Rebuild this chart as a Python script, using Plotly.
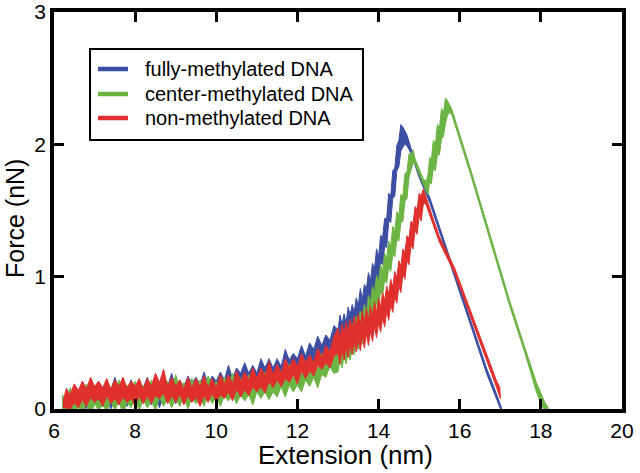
import plotly.graph_objects as go

# ---- data ----
series_names = ["fully-methylated DNA", "center-methylated DNA", "non-methylated DNA"]
series_colors = ["#3b4ea2", "#6cb443", "#e0302d"]

# each series: extension (nm), upper and lower edge of the noisy force band (nN)
blue_x = [6.3, 6.4, 6.5, 6.6, 6.7, 6.8, 6.9, 7.0, 7.1, 7.2, 7.3, 7.4, 7.5, 7.6, 7.7, 7.8, 7.9, 8.0, 8.1, 8.2,
          8.3, 8.4, 8.5, 8.6, 8.7, 8.8, 8.9, 9.0, 9.1, 9.2, 9.3, 9.4, 9.5, 9.6, 9.7, 9.8, 9.9, 10.0, 10.1, 10.2,
          10.3, 10.4, 10.5, 10.6, 10.7, 10.8, 10.9, 11.0, 11.1, 11.2, 11.3, 11.4, 11.5, 11.6, 11.7, 11.8, 11.9,
          12.0, 12.1, 12.2, 12.3, 12.4, 12.5, 12.6, 12.7, 12.8, 12.9,
          13.00, 13.05, 13.10, 13.15, 13.20, 13.25, 13.30, 13.35, 13.40, 13.45, 13.50, 13.55, 13.60, 13.65,
          13.70, 13.75, 13.80, 13.85, 13.90, 13.95, 14.00, 14.05, 14.10, 14.15, 14.20, 14.25, 14.30, 14.35,
          14.40, 14.45, 14.50, 14.55, 14.60, 14.65, 14.70, 14.80, 15.00, 15.26, 15.55, 15.83, 16.25, 16.66,
          16.85, 17.03]
blue_hi = [.16, .10, .16, .11, .21, .14, .19, .13, .21, .13, .18, .14, .24, .15, .19, .14, .22, .15, .21, .16,
           .24, .15, .21, .16, .23, .17, .27, .16, .22, .16, .25, .19, .24, .18, .28, .18, .25, .21, .28, .22,
           .33, .23, .31, .27, .35, .27, .33, .27, .38, .31, .38, .31, .38, .32, .45, .37, .42,
           .38, .48, .40, .50, .45, .55, .48, .56, .52, .63,
           .60, .71, .64, .72, .65, .77, .71, .79, .73, .84, .78, .91, .83, .94,
           .91, 1.03, .97, 1.10, 1.06, 1.21, 1.15, 1.31, 1.30, 1.44, 1.44, 1.63, 1.61, 1.80,
           1.82, 1.99, 2.03, 2.15, 2.13, 2.10, 2.07, 1.97, 1.79, 1.60, 1.33, 1.07, 0.69, 0.31,
           0.16, 0.01]
blue_lo = [.03, -.02, .06, .01, .05, .00, .08, .03, .07, .02, .09, .00, .07, .03, .08, .02, .10, .03, .08, .05,
           .09, .03, .11, .01, .10, .05, .09, .04, .12, .04, .11, .07, .11, .04, .14, .07, .14, .09, .14, .09,
           .18, .12, .19, .11, .22, .16, .21, .15, .23, .18, .26, .20, .25, .19, .29, .24, .32,
           .25, .33, .30, .37, .32, .41, .34, .44, .42, .48,
           .41, .52, .46, .54, .46, .57, .51, .59, .54, .65, .56, .69, .65, .76,
           .69, .81, .78, .91, .84, .99, .95, 1.11, 1.09, 1.23, 1.22, 1.42, 1.41, 1.59,
           1.61, 1.80, 1.83, 1.95, 1.98, 2.00, 1.99, 1.93, 1.75, 1.56, 1.29, 1.03, 0.65, 0.27,
           0.12, -0.02]

green_x = [6.2, 6.3, 6.4, 6.5, 6.6, 6.7, 6.8, 6.9, 7.0, 7.1, 7.2, 7.3, 7.4, 7.5, 7.6, 7.7, 7.8, 7.9, 8.0, 8.1,
           8.2, 8.3, 8.4, 8.5, 8.6, 8.7, 8.8, 8.9, 9.0, 9.1, 9.2, 9.3, 9.4, 9.5, 9.6, 9.7, 9.8, 9.9, 10.0, 10.1,
           10.2, 10.3, 10.4, 10.5, 10.6, 10.7, 10.8, 10.9, 11.0, 11.1, 11.2, 11.3, 11.4, 11.5, 11.6, 11.7, 11.8,
           11.9, 12.0, 12.1, 12.2, 12.3, 12.4, 12.5, 12.6, 12.7, 12.8, 12.9,
           13.00, 13.05, 13.10, 13.15, 13.20, 13.25, 13.30, 13.35, 13.40, 13.45, 13.50, 13.55, 13.60, 13.65,
           13.70, 13.75, 13.80, 13.85, 13.90, 13.95, 14.00, 14.05, 14.10, 14.15, 14.20, 14.25, 14.30, 14.35,
           14.40, 14.45, 14.50, 14.55, 14.60, 14.65, 14.70, 14.75, 14.80, 14.85, 14.90, 15.00, 15.10, 15.18,
           15.22, 15.26, 15.30, 15.35, 15.40, 15.45, 15.50, 15.55, 15.60, 15.65, 15.70, 15.75, 15.80, 16.25,
           16.75, 17.23, 17.60, 17.89, 18.00, 18.10, 18.18]
green_hi = [.11, .07, .16, .06, .14, .09, .19, .09, .16, .09, .17, .12, .16, .11, .22, .10, .18, .13, .21, .12,
            .18, .12, .22, .14, .20, .13, .21, .13, .26, .15, .20, .15, .23, .14, .22, .16, .25, .16, .21, .15,
            .24, .18, .27, .17, .23, .17, .26, .19, .23, .19, .28, .19, .26, .22, .29, .23, .34,
            .23, .30, .27, .35, .29, .36, .30, .42, .36, .44, .40,
            .46, .55, .49, .58, .52, .62, .55, .65, .59, .70, .63, .74, .68, .79,
            .73, .86, .80, .93, .88, 1.01, .96, 1.09, 1.04, 1.18, 1.13, 1.27, 1.23, 1.38,
            1.34, 1.49, 1.46, 1.62, 1.61, 1.78, 1.79, 1.93, 1.92, 1.96, 1.89, 1.82, 1.74, 1.72,
            1.78, 1.90, 1.88, 2.03, 2.00, 2.15, 2.12, 2.27, 2.24, 2.35, 2.33, 2.30, 2.27, 1.83,
            1.32, 0.82, 0.47, 0.20, 0.12, 0.05, 0.01]
green_lo = [-.01, -.04, .03, -.06, .02, -.04, .05, -.05, .04, -.01, .03, -.02, .06, -.01, .06, -.04, .05, .01,
            .08, -.01, .07, .01, .06, -.01, .09, .02, .08, .01, .08, .02, .10, .00, .09, .04, .09, .02, .11, .04,
            .10, .02, .10, .06, .12, .04, .11, .06, .11, .03, .13, .08, .13, .07, .13, .09, .17, .09, .18,
            .13, .18, .13, .22, .17, .24, .16, .26, .24, .32, .27,
            .28, .37, .31, .40, .34, .43, .37, .46, .41, .50, .45, .55, .49, .60,
            .55, .66, .61, .73, .69, .81, .77, .89, .86, .98, .95, 1.07, 1.04, 1.17,
            1.15, 1.28, 1.27, 1.41, 1.42, 1.57, 1.59, 1.75, 1.80, 1.86, 1.85, 1.78, 1.70, 1.64,
            1.62, 1.72, 1.70, 1.82, 1.80, 1.92, 1.92, 2.04, 2.06, 2.16, 2.22, 2.24, 2.23, 1.79,
            1.28, 0.78, 0.43, 0.13, 0.04, -0.01, -0.02]

red_x = [6.22, 6.3, 6.4, 6.5, 6.6, 6.7, 6.8, 6.9, 7.0, 7.1, 7.2, 7.3, 7.4, 7.5, 7.6, 7.7, 7.8, 7.9, 8.0, 8.1,
         8.2, 8.3, 8.4, 8.5, 8.6, 8.7, 8.8, 8.9, 9.0, 9.1, 9.2, 9.3, 9.4, 9.5, 9.6, 9.7, 9.8, 9.9, 10.0, 10.1,
         10.2, 10.3, 10.4, 10.5, 10.6, 10.7, 10.8, 10.9, 11.0, 11.1, 11.2, 11.3, 11.4, 11.5, 11.6, 11.7, 11.8,
         11.9, 12.0, 12.1, 12.2, 12.3, 12.4, 12.5, 12.6, 12.7, 12.8, 12.9,
         13.00, 13.05, 13.10, 13.15, 13.20, 13.25, 13.30, 13.35, 13.40, 13.45, 13.50, 13.55, 13.60, 13.65,
         13.70, 13.75, 13.80, 13.85, 13.90, 13.95, 14.00, 14.05, 14.10, 14.15, 14.20, 14.25, 14.30, 14.35,
         14.40, 14.45, 14.50, 14.55, 14.60, 14.65, 14.70, 14.75, 14.80, 14.85, 14.90, 14.95, 15.00, 15.05,
         15.10, 15.15, 15.30, 15.50, 15.87, 16.33, 16.78, 16.90, 16.99, 17.00]
red_hi = [.05, .15, .11, .19, .14, .21, .15, .24, .17, .21, .16, .23, .15, .22, .17, .24, .16, .21, .17, .23,
          .15, .23, .17, .27, .20, .30, .17, .24, .17, .22, .15, .24, .16, .23, .17, .25, .16, .23, .16, .26,
          .19, .26, .19, .29, .21, .28, .22, .31, .23, .31, .25, .36, .26, .34, .27, .38, .31,
          .38, .32, .42, .35, .41, .35, .46, .39, .48, .43, .55,
          .61, .53, .64, .56, .66, .58, .68, .60, .70, .62, .72, .63, .74, .65,
          .76, .67, .78, .70, .81, .73, .84, .77, .88, .82, .93, .87, .98, .92,
          1.04, .99, 1.12, 1.08, 1.21, 1.18, 1.31, 1.29, 1.42, 1.40, 1.53, 1.51, 1.63, 1.61,
          1.66, 1.62, 1.48, 1.30, 1.07, 0.69, 0.31, 0.22, 0.16, 0.12]
red_lo = [.01, .01, .00, .05, .01, .07, .02, .09, .05, .08, .02, .10, .04, .08, .03, .09, .05, .08, .02, .10,
          .04, .10, .04, .10, .08, .12, .04, .10, .05, .11, .03, .10, .05, .09, .02, .10, .05, .12, .05, .11,
          .08, .13, .06, .15, .09, .15, .10, .17, .13, .17, .12, .21, .16, .22, .17, .23, .20,
          .26, .19, .29, .23, .29, .25, .33, .30, .35, .31, .40,
          .42, .34, .45, .37, .47, .39, .49, .41, .51, .43, .53, .44, .55, .46,
          .57, .48, .59, .51, .62, .54, .65, .58, .69, .62, .74, .67, .79, .73,
          .85, .80, .93, .88, 1.02, .98, 1.12, 1.09, 1.24, 1.21, 1.35, 1.32, 1.46, 1.42,
          1.54, 1.56, 1.44, 1.26, 1.03, 0.65, 0.27, 0.17, 0.09, 0.08]

x_ticks = [6, 8, 10, 12, 14, 16, 18, 20]
y_ticks = [0, 1, 2, 3]
x_title = "Extension (nm)"
y_title = "Force (nN)"

series = [(blue_x, blue_hi, blue_lo), (green_x, green_hi, green_lo), (red_x, red_hi, red_lo)]

FONT = "Arial, Liberation Sans, Helvetica, sans-serif"

fig = go.Figure()
for (xs, hi, lo), col, name in zip(series, series_colors, series_names):
    fig.add_trace(go.Scatter(x=list(xs) + list(xs)[::-1], y=list(hi) + list(lo)[::-1],
                             mode="lines", fill="toself", fillcolor=col,
                             line=dict(color=col, width=1.0), name=name,
                             showlegend=False, hoverinfo="skip"))

axis_common = dict(showgrid=False, zeroline=False, showline=True, linecolor="black", linewidth=3.5,
                   mirror="ticks", ticks="inside", ticklen=10, tickwidth=2.5, tickcolor="black",
                   tickfont=dict(family=FONT, size=21, color="black"), automargin=False,
                   ticklabelstandoff=0)

fig.update_xaxes(range=[6, 20], tickvals=x_ticks, ticktext=[str(v) for v in x_ticks], **axis_common)
fig.update_yaxes(range=[0, 3], tickvals=y_ticks, ticktext=[str(v) for v in y_ticks], **axis_common)

# axis titles and legend box (positions in paper coordinates)
annotations = [
    dict(text=x_title, xref="paper", yref="paper", x=0.514, y=-0.116, xanchor="center", yanchor="middle",
         showarrow=False, font=dict(family=FONT, size=26, color="black")),
    dict(text=y_title, xref="paper", yref="paper", x=-0.0687, y=0.481, xanchor="center", yanchor="middle",
         textangle=-90, showarrow=False, font=dict(family=FONT, size=25, color="black")),
]
shapes = [dict(type="rect", xref="paper", yref="paper", x0=0.0634, x1=0.544, y0=0.6776, y1=0.9068,
               line=dict(color="black", width=2), fillcolor="white", layer="above")]
legend_rows = [0.8564, 0.7935, 0.7330]
for name, col, yy in zip(series_names, series_colors, legend_rows):
    shapes.append(dict(type="line", xref="paper", yref="paper", x0=0.0775, x1=0.1303, y0=yy, y1=yy,
                       line=dict(color=col, width=4.5), layer="above"))
    annotations.append(dict(text=name, xref="paper", yref="paper", x=0.1567, y=yy, xanchor="left",
                            yanchor="middle", showarrow=False, font=dict(family=FONT, size=20, color="black")))

fig.update_layout(
    width=640, height=473,
    margin=dict(l=54, r=18, t=12, b=64),
    paper_bgcolor="white", plot_bgcolor="white",
    font=dict(family=FONT, color="black"),
    showlegend=False,
    annotations=annotations, shapes=shapes,
)

fig.write_html("out.html", config={"displayModeBar": False},
               post_script="document.body.style.margin='0px';")
